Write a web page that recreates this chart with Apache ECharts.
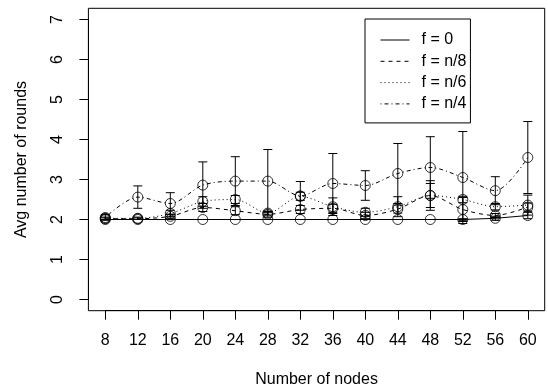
<!DOCTYPE html>
<html>
<head>
<meta charset="utf-8">
<script src="https://cdn.jsdelivr.net/npm/echarts@6/dist/echarts.min.js"></script>
<style>html,body{margin:0;padding:0;background:#fff}#c{width:548px;height:391px}</style>
</head>
<body>
<div id="c"></div>
<script>
var nodes = [8, 12, 16, 20, 24, 28, 32, 36, 40, 44, 48, 52, 56, 60];
var yTicks = [0, 1, 2, 3, 4, 5, 6, 7];
var seriesNames = ['f = 0', 'f = n/8', 'f = n/6', 'f = n/4'];
var f0   = [2.0, 2.0, 2.0, 2.0, 2.0, 2.0, 2.0, 2.0, 2.0, 2.0, 2.0, 2.0, 2.03, 2.1];
var f0Err = [0.0, 0.0, 0.0, 0.0, 0.0, 0.0, 0.0, 0.0, 0.0, 0.0, 0.0, 0.02, 0.05, 0.08];
var fn8  = [2.02, 2.02, 2.08, 2.30, 2.22, 2.13, 2.25, 2.28, 2.10, 2.26, 2.60, 2.25, 2.10, 2.31];
var fn8Err = [0.02, 0.02, 0.05, 0.10, 0.10, 0.07, 0.10, 0.10, 0.08, 0.10, 0.30, 0.30, 0.05, 0.10];
var fn6  = [2.03, 2.03, 2.15, 2.45, 2.50, 2.16, 2.58, 2.32, 2.18, 2.32, 2.60, 2.50, 2.32, 2.36];
var fn6Err = [0.03, 0.03, 0.08, 0.12, 0.10, 0.05, 0.10, 0.22, 0.10, 0.25, 0.37, 0.08, 0.08, 0.25];
var fn4  = [2.05, 2.56, 2.40, 2.86, 2.96, 2.96, 2.59, 2.90, 2.85, 3.15, 3.30, 3.05, 2.72, 3.55];
var fn4Err = [0.07, 0.28, 0.27, 0.58, 0.61, 0.79, 0.36, 0.75, 0.37, 0.75, 0.77, 1.15, 0.35, 0.90];

var FONT = '"Liberation Sans", Arial, Helvetica, sans-serif';
var means = [f0, fn8, fn6, fn4];
var errs = [f0Err, fn8Err, fn6Err, fn4Err];
var dashes = ['solid', [4, 4], [1, 3], [1, 3, 4, 3]];
var smooths = [false, 0.3, 0.3, 0.3];
var Y_OFFSET = 16.9, Y_LABEL_GAP = 30.4;

function pairs(ys) { return nodes.map(function (x, i) { return [x, ys[i]]; }); }
function errData(ys, es) { return nodes.map(function (x, i) { return [x, ys[i] - es[i], ys[i] + es[i]]; }); }

function renderErr(params, api) {
  var lo = api.coord([api.value(0), api.value(1)]);
  var hi = api.coord([api.value(0), api.value(2)]);
  var w = 4.5;
  var st = { stroke: '#000', lineWidth: 1 };
  return {
    type: 'group',
    children: [
      { type: 'line', shape: { x1: lo[0], y1: lo[1], x2: hi[0], y2: hi[1] }, style: st },
      { type: 'line', shape: { x1: lo[0] - w, y1: lo[1], x2: lo[0] + w, y2: lo[1] }, style: st },
      { type: 'line', shape: { x1: hi[0] - w, y1: hi[1], x2: hi[0] + w, y2: hi[1] }, style: st }
    ]
  };
}

function renderYLabel(params, api) {
  var p = api.coord([nodes[0], api.value(0)]);
  return {
    type: 'text', x: p[0] - Y_OFFSET - Y_LABEL_GAP, y: p[1], rotation: Math.PI / 2,
    style: { text: String(api.value(0)), font: '16px ' + FONT, fill: '#000', align: 'center', verticalAlign: 'middle' }
  };
}

var series = [];
seriesNames.forEach(function (name, k) {
  series.push({
    name: name, type: 'line', data: pairs(means[k]), symbol: 'none', smooth: smooths[k], clip: false,
    lineStyle: { color: '#000', width: 1, type: dashes[k] }, itemStyle: { color: '#000' }, z: 2
  });
});
seriesNames.forEach(function (name, k) {
  series.push({
    name: name + ' err', type: 'custom', data: errData(means[k], errs[k]), renderItem: renderErr, z: 3,
    clip: false, encode: { x: 0, y: [1, 2] }
  });
  series.push({
    name: name + ' pts', type: 'scatter', data: pairs(means[k]), symbol: 'circle', symbolSize: 10, clip: false,
    itemStyle: { color: 'rgba(0,0,0,0)', borderColor: '#000', borderWidth: 1 }, z: 4
  });
});
series.push({
  name: 'ylabels', type: 'custom', data: yTicks.map(function (v) { return [v]; }), renderItem: renderYLabel,
  clip: false, silent: true, encode: { y: 0 }, z: 5
});

var chart = echarts.init(document.getElementById('c'), null, { renderer: 'canvas' });
chart.setOption({
  animation: false,
  backgroundColor: '#fff',
  grid: [
    { left: 105.3, right: 20.2, top: 19.5, bottom: 91.5, show: false, containLabel: false, outerBoundsMode: 'none' },
    { left: 88.4, right: 3.3, top: 8.3, bottom: 80.3, show: true, borderColor: '#000', borderWidth: 1, backgroundColor: 'transparent', containLabel: false, outerBoundsMode: 'none' }
  ],
  legend: {
    data: seriesNames, orient: 'vertical', left: 365, top: 19, padding: [13, 4, 11, 15], itemGap: 5.3,
    itemWidth: 29, itemHeight: 14, borderColor: '#000', borderWidth: 1, backgroundColor: '#fff',
    itemStyle: { opacity: 0 }, lineStyle: { width: 1 },
    textStyle: { fontFamily: FONT, fontSize: 16, color: '#000', padding: [0, 0, 0, 7] }, selectedMode: false
  },
  xAxis: [{
    gridIndex: 0, type: 'value', min: 8, max: 60, interval: 4, offset: 11.2,
    name: 'Number of nodes', nameLocation: 'middle', nameGap: 61,
    nameTextStyle: { fontFamily: FONT, fontSize: 16, color: '#000' },
    axisLine: { show: true, onZero: false, lineStyle: { color: '#000', width: 1 } },
    axisTick: { show: true, inside: false, length: 9, lineStyle: { color: '#000' } },
    axisLabel: { margin: 22, fontFamily: FONT, fontSize: 16, color: '#000', showMinLabel: true, showMaxLabel: true },
    splitLine: { show: false }
  }, { gridIndex: 1, type: 'value', show: false, min: 0, max: 1 }],
  yAxis: [{
    gridIndex: 0, type: 'value', min: 0, max: 7, interval: 1, offset: Y_OFFSET,
    name: 'Avg number of rounds', nameLocation: 'middle', nameGap: 59,
    nameTextStyle: { fontFamily: FONT, fontSize: 16, color: '#000' },
    axisLine: { show: true, onZero: false, lineStyle: { color: '#000', width: 1 } },
    axisTick: { show: true, inside: false, length: 9, lineStyle: { color: '#000' } },
    axisLabel: { show: false },
    splitLine: { show: false }
  }, { gridIndex: 1, type: 'value', show: false, min: 0, max: 1 }],
  series: series
});
</script>
</body>
</html>
